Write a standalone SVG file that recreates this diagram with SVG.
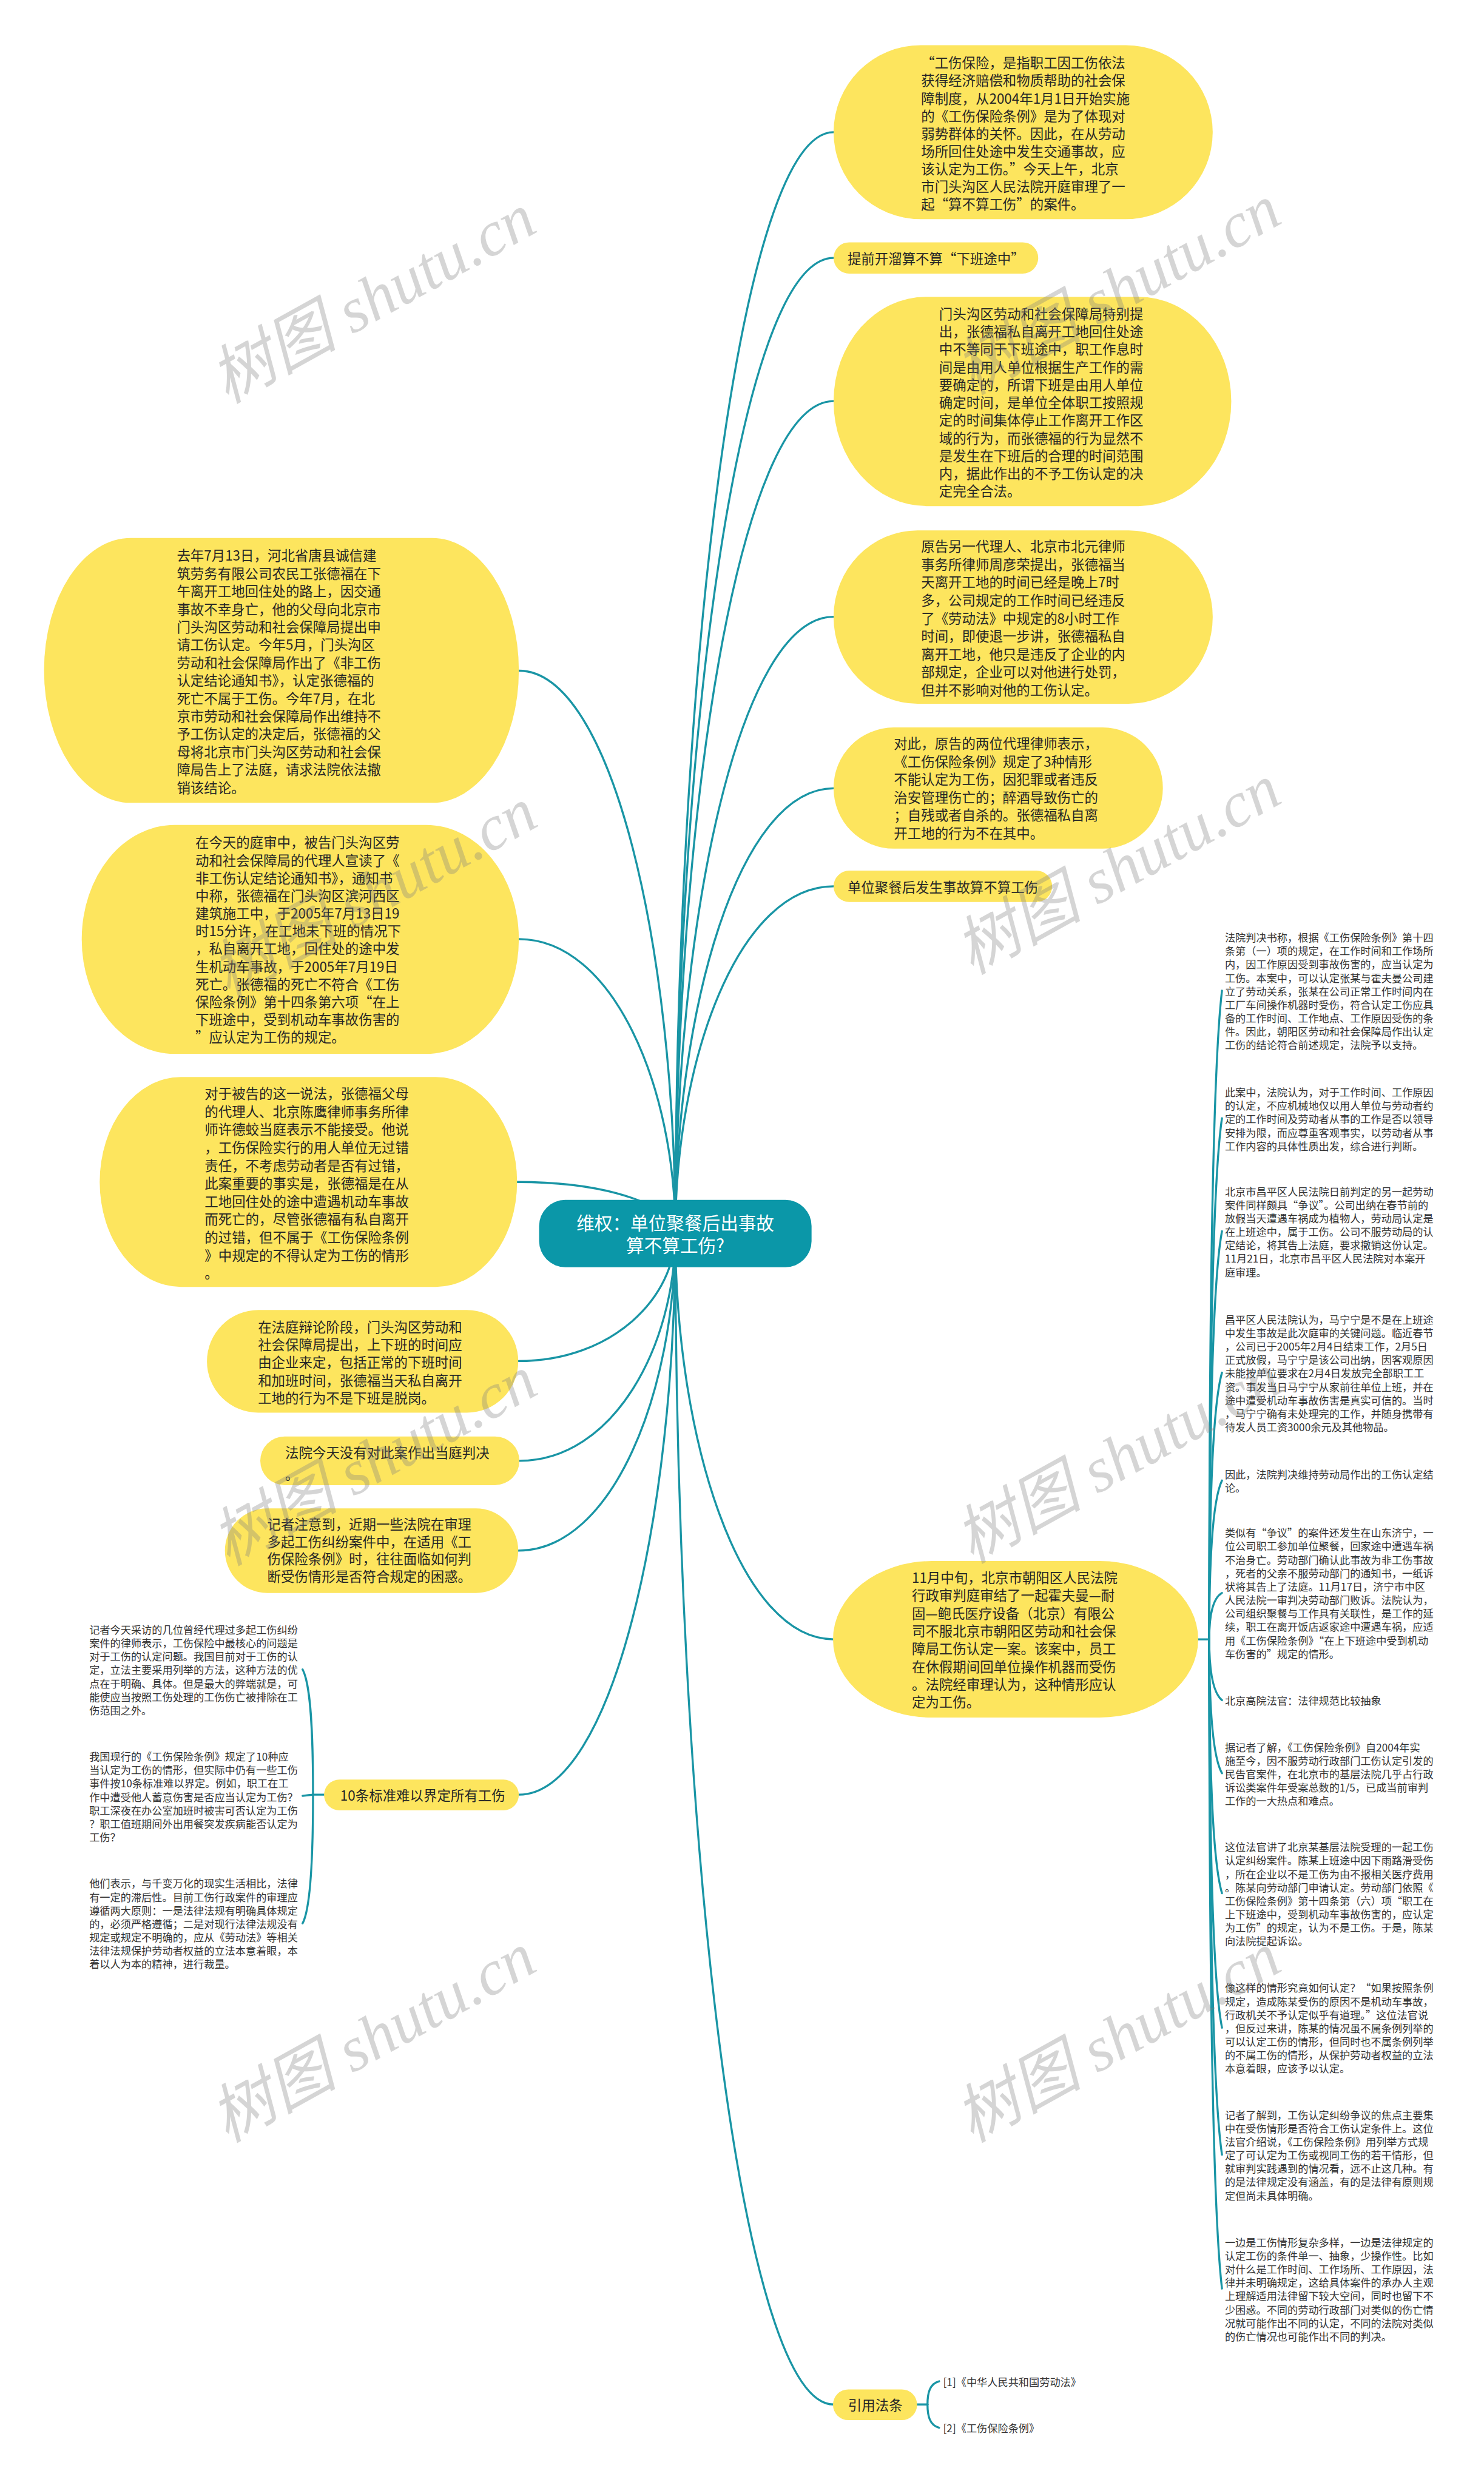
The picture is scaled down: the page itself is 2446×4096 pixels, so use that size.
<svg xmlns="http://www.w3.org/2000/svg" width="2446" height="4096" viewBox="0 0 2446 4096">
<style>
.b{fill:#fde55e}
.t{font-family:"Noto Sans CJK SC","Liberation Sans",sans-serif;font-size:23.5px;fill:#262626;dominant-baseline:central}
.s{font-family:"Noto Sans CJK SC","Liberation Sans",sans-serif;font-size:18px;fill:#333;dominant-baseline:central}
.c{fill:none;stroke:#1995a5;stroke-width:3.5;stroke-linecap:round}
.rt{font-family:"Noto Sans CJK SC","Liberation Sans",sans-serif;font-size:31px;fill:#fff;dominant-baseline:central;text-anchor:middle}
.w{font-family:"Liberation Serif","Noto Sans CJK SC",serif;font-style:italic;font-size:110px;fill:#808080;fill-opacity:0.33;text-anchor:middle;dominant-baseline:central}
</style>
<rect width="2446" height="4096" fill="#fff"/>
<g transform="scale(0.95547)">
<g id="connectors">
<path class="c" d="M1165,2127 C1165,1177 1274,228 1438,228"/>
<path class="c" d="M1165,2127 C1165,1286 1274,445 1438,445"/>
<path class="c" d="M1165,2127 C1165,1410 1274,692 1438,692"/>
<path class="c" d="M1165,2127 C1165,1596 1274,1064 1438,1064"/>
<path class="c" d="M1165,2127 C1165,1744 1274,1360 1438,1360"/>
<path class="c" d="M1165,2127 C1165,1828 1274,1529 1438,1529"/>
<path class="c" d="M1165,2127 C1165,2478 1274,2828 1438,2828"/>
<path class="c" d="M1165,2127 C1165,3138 1274,4148 1438,4148"/>
<path class="c" d="M1165,2127 C1165,1642 1057,1157 895,1157"/>
<path class="c" d="M1165,2127 C1165,1874 1057,1620 895,1620"/>
<path class="c" d="M1165,2127 C1165,2083 1056,2039 892,2039"/>
<path class="c" d="M1165,2127 C1165,2238 1057,2348 894,2348"/>
<path class="c" d="M1165,2127 C1165,2324 1057,2520 896,2520"/>
<path class="c" d="M1165,2127 C1165,2401 1057,2675 894,2675"/>
<path class="c" d="M1165,2127 C1165,2612 1057,3096 895,3096"/>
<path class="c" d="M2067,2828 L2086,2828"/>
<path class="c" d="M2086,2828 C2086,2268 2092,1843 2108,1709"/>
<path class="c" d="M2086,2828 C2086,2378 2092,2037 2108,1929"/>
<path class="c" d="M2086,2828 C2086,2476 2092,2208 2108,2124"/>
<path class="c" d="M2086,2828 C2086,2598 2092,2423 2108,2368"/>
<path class="c" d="M2086,2828 C2086,2691 2092,2587 2108,2554"/>
<path class="c" d="M2086,2828 C2086,2787 2092,2757 2108,2748"/>
<path class="c" d="M2086,2828 C2086,2880 2092,2920 2108,2933"/>
<path class="c" d="M2086,2828 C2086,2943 2092,3031 2108,3059"/>
<path class="c" d="M2086,2828 C2086,3047 2092,3213 2108,3266"/>
<path class="c" d="M2086,2828 C2086,3163 2092,3418 2108,3498"/>
<path class="c" d="M2086,2828 C2086,3272 2092,3610 2108,3717"/>
<path class="c" d="M2086,2828 C2086,3388 2092,3814 2108,3948"/>
<path class="c" d="M1582,4148 L1600,4148"/>
<path class="c" d="M1600,4148 C1600,4128 1604,4112 1620,4108"/>
<path class="c" d="M1600,4148 C1600,4168 1604,4184 1620,4188"/>
<path class="c" d="M559,3096 L540,3096"/>
<path class="c" d="M540,3096 C540,2988 536,2906 522,2880"/>
<path class="c" d="M540,3096 L522,3098"/>
<path class="c" d="M540,3096 C540,3207 536,3292 522,3318"/>
</g>
<g id="root">
<rect x="930" y="2070" width="470" height="116" rx="45" fill="#0b97a8"/>
<text class="rt"><tspan x="1165" y="2108">维权：单位聚餐后出事故</tspan><tspan x="1165" y="2147">算不算工伤?</tspan></text>
</g>
<g id="r1">
<rect class="b" x="1438" y="78" width="654" height="300" rx="150" ry="150"/>
<text class="t"><tspan x="1589" y="107">“工伤保险，是指职工因工伤依法</tspan><tspan x="1589" y="137.5">获得经济赔偿和物质帮助的社会保</tspan><tspan x="1589" y="168">障制度，从2004年1月1日开始实施</tspan><tspan x="1589" y="198.5">的《工伤保险条例》是为了体现对</tspan><tspan x="1589" y="229">弱势群体的关怀。因此，在从劳动</tspan><tspan x="1589" y="259.5">场所回住处途中发生交通事故，应</tspan><tspan x="1589" y="290">该认定为工伤。”今天上午，北京</tspan><tspan x="1589" y="320.5">市门头沟区人民法院开庭审理了一</tspan><tspan x="1589" y="351">起“算不算工伤”的案件。</tspan></text>
</g>
<g id="r2">
<rect class="b" x="1438" y="418" width="353" height="54" rx="27"/>
<text class="t" x="1462" y="445">提前开溜算不算“下班途中”</text>
</g>
<g id="r3">
<rect class="b" x="1438" y="512" width="686" height="361" rx="160" ry="180"/>
<text class="t"><tspan x="1620" y="540">门头沟区劳动和社会保障局特别提</tspan><tspan x="1620" y="570.6">出，张德福私自离开工地回住处途</tspan><tspan x="1620" y="601.2">中不等同于下班途中，职工作息时</tspan><tspan x="1620" y="631.8">间是由用人单位根据生产工作的需</tspan><tspan x="1620" y="662.4">要确定的，所谓下班是由用人单位</tspan><tspan x="1620" y="693">确定时间，是单位全体职工按照规</tspan><tspan x="1620" y="723.6">定的时间集体停止工作离开工作区</tspan><tspan x="1620" y="754.2">域的行为，而张德福的行为显然不</tspan><tspan x="1620" y="784.8">是发生在下班后的合理的时间范围</tspan><tspan x="1620" y="815.4">内，据此作出的不予工伤认定的决</tspan><tspan x="1620" y="846">定完全合法。</tspan></text>
</g>
<g id="r4">
<rect class="b" x="1438" y="915" width="654" height="299" rx="145" ry="149"/>
<text class="t"><tspan x="1589" y="941">原告另一代理人、北京市北元律师</tspan><tspan x="1589" y="972">事务所律师周彦荣提出，张德福当</tspan><tspan x="1589" y="1003">天离开工地的时间已经是晚上7时</tspan><tspan x="1589" y="1034">多，公司规定的工作时间已经违反</tspan><tspan x="1589" y="1065">了《劳动法》中规定的8小时工作</tspan><tspan x="1589" y="1096">时间，即使退一步讲，张德福私自</tspan><tspan x="1589" y="1127">离开工地，他只是违反了企业的内</tspan><tspan x="1589" y="1158">部规定，企业可以对他进行处罚，</tspan><tspan x="1589" y="1189">但并不影响对他的工伤认定。</tspan></text>
</g>
<g id="r5">
<rect class="b" x="1438" y="1255" width="568" height="209" rx="104"/>
<text class="t"><tspan x="1542" y="1281">对此，原告的两位代理律师表示，</tspan><tspan x="1542" y="1312">《工伤保险条例》规定了3种情形</tspan><tspan x="1542" y="1343">不能认定为工伤，因犯罪或者违反</tspan><tspan x="1542" y="1374">治安管理伤亡的；醉酒导致伤亡的</tspan><tspan x="1542" y="1405">；自残或者自杀的。张德福私自离</tspan><tspan x="1542" y="1436">开工地的行为不在其中。</tspan></text>
</g>
<g id="r6">
<rect class="b" x="1438" y="1502" width="377" height="54" rx="27"/>
<text class="t" x="1462" y="1529">单位聚餐后发生事故算不算工伤</text>
</g>
<g id="r7">
<rect class="b" x="1437" y="2693" width="630" height="270" rx="170" ry="135"/>
<text class="t"><tspan x="1573" y="2720">11月中旬，北京市朝阳区人民法院</tspan><tspan x="1573" y="2750.7">行政审判庭审结了一起霍夫曼—耐</tspan><tspan x="1573" y="2781.4">固—鲍氏医疗设备（北京）有限公</tspan><tspan x="1573" y="2812.1">司不服北京市朝阳区劳动和社会保</tspan><tspan x="1573" y="2842.8">障局工伤认定一案。该案中，员工</tspan><tspan x="1573" y="2873.5">在休假期间回单位操作机器而受伤</tspan><tspan x="1573" y="2904.2">。法院经审理认为，这种情形应认</tspan><tspan x="1573" y="2934.9">定为工伤。</tspan></text>
</g>
<g id="r7c1"><text class="s"><tspan x="2113" y="1616">法院判决书称，根据《工伤保险条例》第十四</tspan><tspan x="2113" y="1639.2">条第（一）项的规定，在工作时间和工作场所</tspan><tspan x="2113" y="1662.4">内，因工作原因受到事故伤害的，应当认定为</tspan><tspan x="2113" y="1685.6">工伤。本案中，可以认定张某与霍夫曼公司建</tspan><tspan x="2113" y="1708.8">立了劳动关系，张某在公司正常工作时间内在</tspan><tspan x="2113" y="1732">工厂车间操作机器时受伤，符合认定工伤应具</tspan><tspan x="2113" y="1755.2">备的工作时间、工作地点、工作原因受伤的条</tspan><tspan x="2113" y="1778.4">件。因此，朝阳区劳动和社会保障局作出认定</tspan><tspan x="2113" y="1801.6">工伤的结论符合前述规定，法院予以支持。</tspan></text></g>
<g id="r7c2"><text class="s"><tspan x="2113" y="1883">此案中，法院认为，对于工作时间、工作原因</tspan><tspan x="2113" y="1906.2">的认定，不应机械地仅以用人单位与劳动者约</tspan><tspan x="2113" y="1929.4">定的工作时间及劳动者从事的工作是否以领导</tspan><tspan x="2113" y="1952.6">安排为限，而应尊重客观事实，以劳动者从事</tspan><tspan x="2113" y="1975.8">工作内容的具体性质出发，综合进行判断。</tspan></text></g>
<g id="r7c3"><text class="s"><tspan x="2113" y="2054">北京市昌平区人民法院日前判定的另一起劳动</tspan><tspan x="2113" y="2077.2">案件同样颇具“争议”。公司出纳在春节前的</tspan><tspan x="2113" y="2100.4">放假当天遭遇车祸成为植物人，劳动局认定是</tspan><tspan x="2113" y="2123.6">在上班途中，属于工伤。公司不服劳动局的认</tspan><tspan x="2113" y="2146.8">定结论，将其告上法庭，要求撤销这份认定。</tspan><tspan x="2113" y="2170">11月21日，北京市昌平区人民法院对本案开</tspan><tspan x="2113" y="2193.2">庭审理。</tspan></text></g>
<g id="r7c4"><text class="s"><tspan x="2113" y="2275">昌平区人民法院认为，马宁宁是不是在上班途</tspan><tspan x="2113" y="2298.2">中发生事故是此次庭审的关键问题。临近春节</tspan><tspan x="2113" y="2321.4">，公司已于2005年2月4日结束工作，2月5日</tspan><tspan x="2113" y="2344.6">正式放假，马宁宁是该公司出纳，因客观原因</tspan><tspan x="2113" y="2367.8">未能按单位要求在2月4日发放完全部职工工</tspan><tspan x="2113" y="2391">资。事发当日马宁宁从家前往单位上班，并在</tspan><tspan x="2113" y="2414.2">途中遭受机动车事故伤害是真实可信的。当时</tspan><tspan x="2113" y="2437.4">，马宁宁确有未处理完的工作，并随身携带有</tspan><tspan x="2113" y="2460.6">待发人员工资3000余元及其他物品。</tspan></text></g>
<g id="r7c5"><text class="s"><tspan x="2113" y="2542">因此，法院判决维持劳动局作出的工伤认定结</tspan><tspan x="2113" y="2565.2">论。</tspan></text></g>
<g id="r7c6"><text class="s"><tspan x="2113" y="2643">类似有“争议”的案件还发生在山东济宁，一</tspan><tspan x="2113" y="2666.2">位公司职工参加单位聚餐，回家途中遭遇车祸</tspan><tspan x="2113" y="2689.4">不治身亡。劳动部门确认此事故为非工伤事故</tspan><tspan x="2113" y="2712.6">，死者的父亲不服劳动部门的通知书，一纸诉</tspan><tspan x="2113" y="2735.8">状将其告上了法庭。11月17日，济宁市中区</tspan><tspan x="2113" y="2759">人民法院一审判决劳动部门败诉。法院认为，</tspan><tspan x="2113" y="2782.2">公司组织聚餐与工作具有关联性，是工作的延</tspan><tspan x="2113" y="2805.4">续，职工在离开饭店返家途中遭遇车祸，应适</tspan><tspan x="2113" y="2828.6">用《工伤保险条例》“在上下班途中受到机动</tspan><tspan x="2113" y="2851.8">车伤害的”规定的情形。</tspan></text></g>
<g id="r7c7"><text class="s" x="2113" y="2933">北京高院法官：法律规范比较抽象</text></g>
<g id="r7c8"><text class="s"><tspan x="2113" y="3013">据记者了解，《工伤保险条例》自2004年实</tspan><tspan x="2113" y="3036.2">施至今，因不服劳动行政部门工伤认定引发的</tspan><tspan x="2113" y="3059.4">民告官案件，在北京市的基层法院几乎占行政</tspan><tspan x="2113" y="3082.6">诉讼类案件年受案总数的1/5，已成当前审判</tspan><tspan x="2113" y="3105.8">工作的一大热点和难点。</tspan></text></g>
<g id="r7c9"><text class="s"><tspan x="2113" y="3185">这位法官讲了北京某基层法院受理的一起工伤</tspan><tspan x="2113" y="3208.2">认定纠纷案件。陈某上班途中因下雨路滑受伤</tspan><tspan x="2113" y="3231.4">，所在企业以不是工伤为由不报相关医疗费用</tspan><tspan x="2113" y="3254.6">。陈某向劳动部门申请认定。劳动部门依照《</tspan><tspan x="2113" y="3277.8">工伤保险条例》第十四条第（六）项“职工在</tspan><tspan x="2113" y="3301">上下班途中，受到机动车事故伤害的，应认定</tspan><tspan x="2113" y="3324.2">为工伤”的规定，认为不是工伤。于是，陈某</tspan><tspan x="2113" y="3347.4">向法院提起诉讼。</tspan></text></g>
<g id="r7c10"><text class="s"><tspan x="2113" y="3428">像这样的情形究竟如何认定？“如果按照条例</tspan><tspan x="2113" y="3451.2">规定，造成陈某受伤的原因不是机动车事故，</tspan><tspan x="2113" y="3474.4">行政机关不予认定似乎有道理。”这位法官说</tspan><tspan x="2113" y="3497.6">，但反过来讲，陈某的情况虽不属条例列举的</tspan><tspan x="2113" y="3520.8">可以认定工伤的情形，但同时也不属条例列举</tspan><tspan x="2113" y="3544">的不属工伤的情形，从保护劳动者权益的立法</tspan><tspan x="2113" y="3567.2">本意着眼，应该予以认定。</tspan></text></g>
<g id="r7c11"><text class="s"><tspan x="2113" y="3647">记者了解到，工伤认定纠纷争议的焦点主要集</tspan><tspan x="2113" y="3670.2">中在受伤情形是否符合工伤认定条件上。这位</tspan><tspan x="2113" y="3693.4">法官介绍说，《工伤保险条例》用列举方式规</tspan><tspan x="2113" y="3716.6">定了可认定为工伤或视同工伤的若干情形，但</tspan><tspan x="2113" y="3739.8">就审判实践遇到的情况看，远不止这几种。有</tspan><tspan x="2113" y="3763">的是法律规定没有涵盖，有的是法律有原则规</tspan><tspan x="2113" y="3786.2">定但尚未具体明确。</tspan></text></g>
<g id="r7c12"><text class="s"><tspan x="2113" y="3867">一边是工伤情形复杂多样，一边是法律规定的</tspan><tspan x="2113" y="3890.2">认定工伤的条件单一、抽象，少操作性。比如</tspan><tspan x="2113" y="3913.4">对什么是工作时间、工作场所、工作原因，法</tspan><tspan x="2113" y="3936.6">律并未明确规定，这给具体案件的承办人主观</tspan><tspan x="2113" y="3959.8">上理解适用法律留下较大空间，同时也留下不</tspan><tspan x="2113" y="3983">少困惑。不同的劳动行政部门对类似的伤亡情</tspan><tspan x="2113" y="4006.2">况就可能作出不同的认定，不同的法院对类似</tspan><tspan x="2113" y="4029.4">的伤亡情况也可能作出不同的判决。</tspan></text></g>
<g id="r8">
<rect class="b" x="1437" y="4122" width="145" height="53" rx="26.5"/>
<text class="t" x="1463" y="4148">引用法条</text>
</g>
<g id="r8c1"><text class="s" x="1627" y="4108">[1]《中华人民共和国劳动法》</text></g>
<g id="r8c2"><text class="s" x="1627" y="4188">[2]《工伤保险条例》</text></g>
<g id="l1">
<rect class="b" x="76" y="928" width="819" height="457" rx="150" ry="228"/>
<text class="t"><tspan x="305" y="957">去年7月13日，河北省唐县诚信建</tspan><tspan x="305" y="987.8">筑劳务有限公司农民工张德福在下</tspan><tspan x="305" y="1018.5">午离开工地回住处的路上，因交通</tspan><tspan x="305" y="1049.3">事故不幸身亡，他的父母向北京市</tspan><tspan x="305" y="1080.1">门头沟区劳动和社会保障局提出申</tspan><tspan x="305" y="1110.9">请工伤认定。今年5月，门头沟区</tspan><tspan x="305" y="1141.6">劳动和社会保障局作出了《非工伤</tspan><tspan x="305" y="1172.4">认定结论通知书》，认定张德福的</tspan><tspan x="305" y="1203.2">死亡不属于工伤。今年7月，在北</tspan><tspan x="305" y="1233.9">京市劳动和社会保障局作出维持不</tspan><tspan x="305" y="1264.7">予工伤认定的决定后，张德福的父</tspan><tspan x="305" y="1295.5">母将北京市门头沟区劳动和社会保</tspan><tspan x="305" y="1326.2">障局告上了法庭，请求法院依法撤</tspan><tspan x="305" y="1357">销该结论。</tspan></text>
</g>
<g id="l2">
<rect class="b" x="141" y="1423" width="754" height="395" rx="160" ry="197"/>
<text class="t"><tspan x="337" y="1452">在今天的庭审中，被告门头沟区劳</tspan><tspan x="337" y="1482.6">动和社会保障局的代理人宣读了《</tspan><tspan x="337" y="1513.1">非工伤认定结论通知书》，通知书</tspan><tspan x="337" y="1543.7">中称，张德福在门头沟区滨河西区</tspan><tspan x="337" y="1574.2">建筑施工中，于2005年7月13日19</tspan><tspan x="337" y="1604.8">时15分许，在工地未下班的情况下</tspan><tspan x="337" y="1635.3">，私自离开工地，回住处的途中发</tspan><tspan x="337" y="1665.9">生机动车事故，于2005年7月19日</tspan><tspan x="337" y="1696.4">死亡。张德福的死亡不符合《工伤</tspan><tspan x="337" y="1727">保险条例》第十四条第六项“在上</tspan><tspan x="337" y="1757.5">下班途中，受到机动车事故伤害的</tspan><tspan x="337" y="1788">”应认定为工伤的规定。</tspan></text>
</g>
<g id="l3">
<rect class="b" x="172" y="1858" width="720" height="362" rx="140" ry="181"/>
<text class="t"><tspan x="353" y="1885">对于被告的这一说法，张德福父母</tspan><tspan x="353" y="1916">的代理人、北京陈鹰律师事务所律</tspan><tspan x="353" y="1947">师许德蛟当庭表示不能接受。他说</tspan><tspan x="353" y="1978">，工伤保险实行的用人单位无过错</tspan><tspan x="353" y="2009">责任，不考虑劳动者是否有过错，</tspan><tspan x="353" y="2040">此案重要的事实是，张德福是在从</tspan><tspan x="353" y="2071">工地回住处的途中遭遇机动车事故</tspan><tspan x="353" y="2102">而死亡的，尽管张德福有私自离开</tspan><tspan x="353" y="2133">的过错，但不属于《工伤保险条例</tspan><tspan x="353" y="2164">》中规定的不得认定为工伤的情形</tspan><tspan x="353" y="2195">。</tspan></text>
</g>
<g id="l4">
<rect class="b" x="357" y="2260" width="537" height="177" rx="88.5"/>
<text class="t"><tspan x="445" y="2288">在法庭辩论阶段，门头沟区劳动和</tspan><tspan x="445" y="2318.5">社会保障局提出，上下班的时间应</tspan><tspan x="445" y="2349">由企业来定，包括正常的下班时间</tspan><tspan x="445" y="2379.5">和加班时间，张德福当天私自离开</tspan><tspan x="445" y="2410">工地的行为不是下班是脱岗。</tspan></text>
</g>
<g id="l5">
<rect class="b" x="449" y="2478" width="447" height="84" rx="42"/>
<text class="t"><tspan x="492" y="2505">法院今天没有对此案作出当庭判决</tspan><tspan x="492" y="2542">。</tspan></text>
</g>
<g id="l6">
<rect class="b" x="388" y="2602" width="506" height="146" rx="73"/>
<text class="t"><tspan x="461" y="2628">记者注意到，近期一些法院在审理</tspan><tspan x="461" y="2658">多起工伤纠纷案件中，在适用《工</tspan><tspan x="461" y="2688">伤保险条例》时，往往面临如何判</tspan><tspan x="461" y="2718">断受伤情形是否符合规定的困惑。</tspan></text>
</g>
<g id="l7">
<rect class="b" x="559" y="3070" width="336" height="53" rx="26.5"/>
<text class="t" x="587" y="3096">10条标准难以界定所有工伤</text>
</g>
<g id="l7c1"><text class="s"><tspan x="154" y="2810">记者今天采访的几位曾经代理过多起工伤纠纷</tspan><tspan x="154" y="2833.2">案件的律师表示，工伤保险中最核心的问题是</tspan><tspan x="154" y="2856.4">对于工伤的认定问题。我国目前对于工伤的认</tspan><tspan x="154" y="2879.6">定，立法主要采用列举的方法，这种方法的优</tspan><tspan x="154" y="2902.8">点在于明确、具体。但是最大的弊端就是，可</tspan><tspan x="154" y="2926">能使应当按照工伤处理的工伤伤亡被排除在工</tspan><tspan x="154" y="2949.2">伤范围之外。</tspan></text></g>
<g id="l7c2"><text class="s"><tspan x="154" y="3029">我国现行的《工伤保险条例》规定了10种应</tspan><tspan x="154" y="3052.2">当认定为工伤的情形，但实际中仍有一些工伤</tspan><tspan x="154" y="3075.4">事件按10条标准难以界定。例如，职工在工</tspan><tspan x="154" y="3098.6">作中遭受他人蓄意伤害是否应当认定为工伤？</tspan><tspan x="154" y="3121.8">职工深夜在办公室加班时被害可否认定为工伤</tspan><tspan x="154" y="3145">？职工值班期间外出用餐突发疾病能否认定为</tspan><tspan x="154" y="3168.2">工伤？</tspan></text></g>
<g id="l7c3"><text class="s"><tspan x="154" y="3248">他们表示，与千变万化的现实生活相比，法律</tspan><tspan x="154" y="3271.2">有一定的滞后性。目前工伤行政案件的审理应</tspan><tspan x="154" y="3294.4">遵循两大原则：一是法律法规有明确具体规定</tspan><tspan x="154" y="3317.6">的，必须严格遵循；二是对现行法律法规没有</tspan><tspan x="154" y="3340.8">规定或规定不明确的，应从《劳动法》等相关</tspan><tspan x="154" y="3364">法律法规保护劳动者权益的立法本意着眼，本</tspan><tspan x="154" y="3387.2">着以人为本的精神，进行裁量。</tspan></text></g>
<g id="watermarks">
<text class="w" transform="translate(643,515) rotate(-29)">树图 shutu.cn</text>
<text class="w" transform="translate(1928,500) rotate(-29)">树图 shutu.cn</text>
<text class="w" transform="translate(645,1540) rotate(-29)">树图 shutu.cn</text>
<text class="w" transform="translate(1928,1500) rotate(-29)">树图 shutu.cn</text>
<text class="w" transform="translate(645,2520) rotate(-29)">树图 shutu.cn</text>
<text class="w" transform="translate(1928,2516) rotate(-29)">树图 shutu.cn</text>
<text class="w" transform="translate(643,3515) rotate(-29)">树图 shutu.cn</text>
<text class="w" transform="translate(1928,3515) rotate(-29)">树图 shutu.cn</text>
</g>
</g>
</svg>
